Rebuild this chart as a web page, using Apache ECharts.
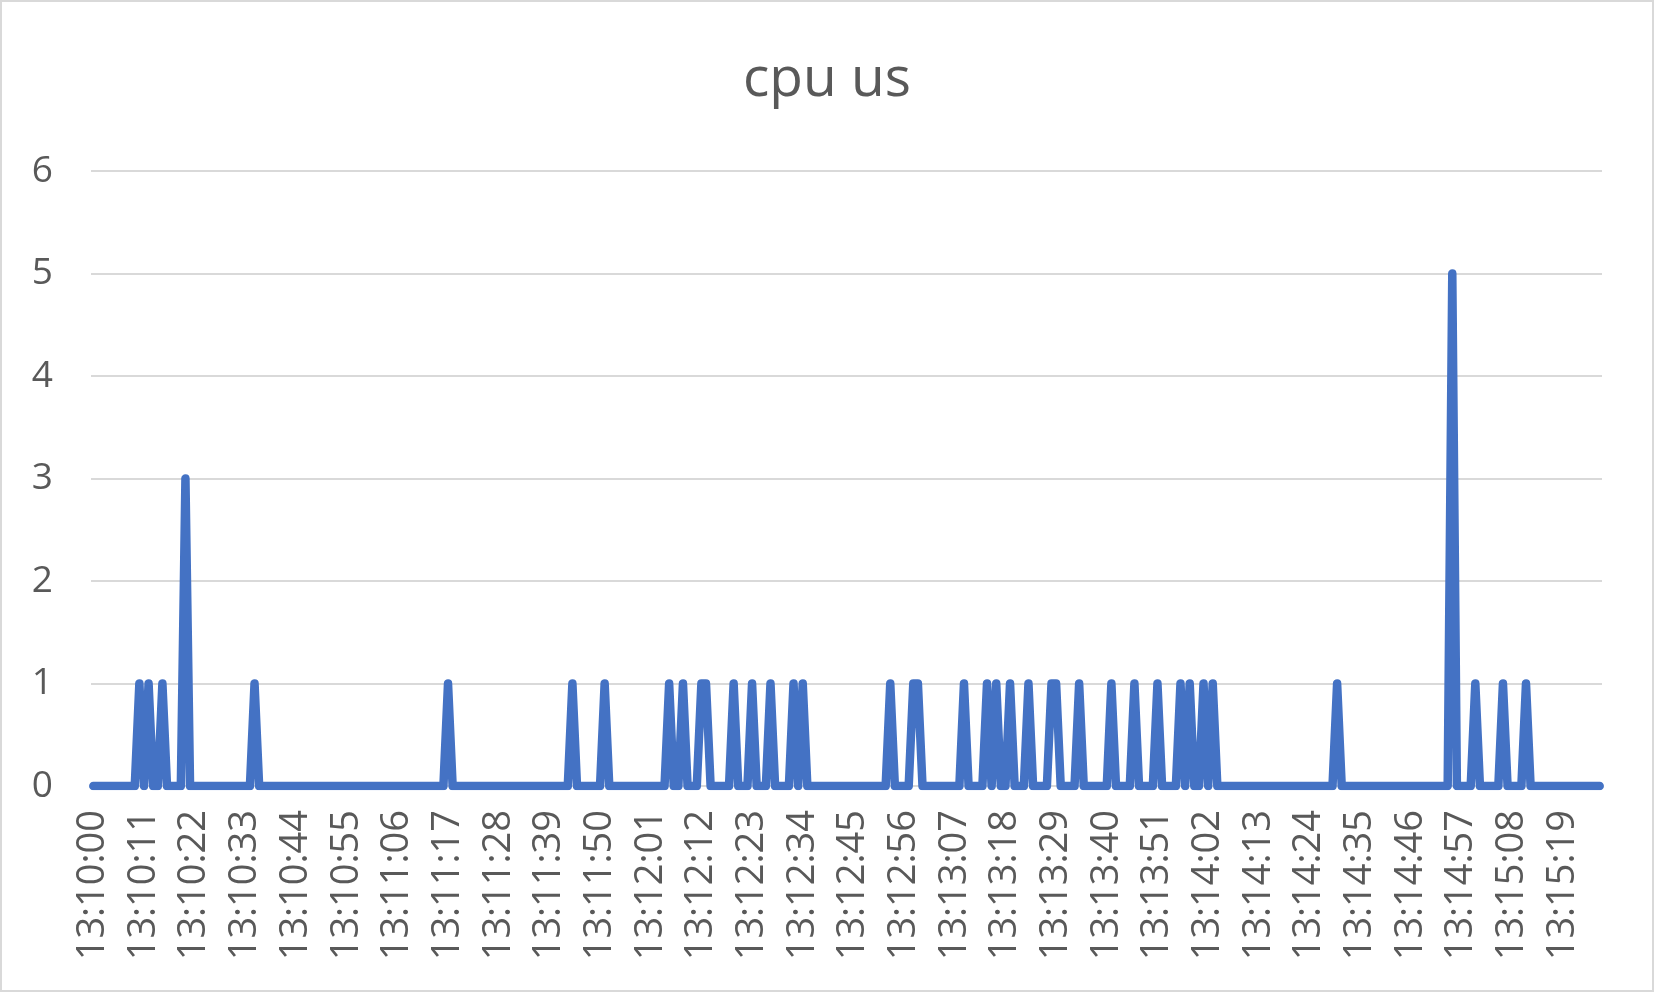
<!DOCTYPE html>
<html>
<head>
	<meta charset="UTF-8">
	<title>cpu us</title>
	<style>
		html, body { margin: 0; padding: 0; background: #fff; }
		#container { width: 1654px; height: 992px; }
	</style>
</head>
<body>
	<div id="container"></div>

	<script src="https://cdn.jsdelivr.net/npm/echarts@6/dist/echarts.min.js"></script>
	<script>
		// one sample per second, 13:10:00 .. 13:15:27
		var startTime = '13:10:00';
		var sampleCount = 328;

		// cpu us values, 20 per row
		var cpuUs = [
			0,0,0,0,0,0,0,0,0,0, 1,0,1,0,0,1,0,0,0,0,
			3,0,0,0,0,0,0,0,0,0, 0,0,0,0,0,1,0,0,0,0,
			0,0,0,0,0,0,0,0,0,0, 0,0,0,0,0,0,0,0,0,0,
			0,0,0,0,0,0,0,0,0,0, 0,0,0,0,0,0,0,1,0,0,
			0,0,0,0,0,0,0,0,0,0, 0,0,0,0,0,0,0,0,0,0,
			0,0,0,0,1,0,0,0,0,0, 0,1,0,0,0,0,0,0,0,0,
			0,0,0,0,0,1,0,0,1,0, 0,0,1,1,0,0,0,0,0,1,
			0,0,0,1,0,0,0,1,0,0, 0,0,1,0,1,0,0,0,0,0,
			0,0,0,0,0,0,0,0,0,0, 0,0,0,1,0,0,0,0,1,1,
			0,0,0,0,0,0,0,0,0,1, 0,0,0,0,1,0,1,0,0,1,
			0,0,0,1,0,0,0,0,1,1, 0,0,0,0,1,0,0,0,0,0,
			0,1,0,0,0,0,1,0,0,0, 0,1,0,0,0,0,1,0,1,0,
			0,1,0,1,0,0,0,0,0,0, 0,0,0,0,0,0,0,0,0,0,
			0,0,0,0,0,0,0,0,0,0, 1,0,0,0,0,0,0,0,0,0,
			0,0,0,0,0,0,0,0,0,0, 0,0,0,0,0,5,0,0,0,0,
			1,0,0,0,0,0,1,0,0,0, 0,1,0,0,0,0,0,0,0,0,
			0,0,0,0,0,0,0,0
		];

		var yTicks = [0, 1, 2, 3, 4, 5, 6];

		function pad(n) {
			return (n < 10 ? '0' : '') + n;
		}

		var times = [];
		var p = startTime.split(':');
		var base = (+p[0]) * 3600 + (+p[1]) * 60 + (+p[2]);
		for (var i = 0; i < sampleCount; i++) {
			var s = base + i;
			times.push(pad(Math.floor(s / 3600)) + ':' + pad(Math.floor(s / 60) % 60) + ':' + pad(s % 60));
		}

		var dom = document.getElementById('container');
		var myChart = echarts.init(dom, null, { renderer: 'canvas' });
		var font = '"Open Sans", "Noto Sans", sans-serif';

		var option = {
			backgroundColor: '#ffffff',
			animation: false,
			title: {
				text: 'cpu us',
				left: 'center',
				top: 48,
				textStyle: {
					fontFamily: font,
					fontSize: 55,
					fontWeight: 'normal',
					color: '#595959'
				}
			},
			graphic: [{
				type: 'rect',
				shape: { x: 1, y: 1, width: 1652, height: 990 },
				style: { fill: 'none', stroke: '#d9d9d9', lineWidth: 2 },
				silent: true
			}],
			grid: {
				left: 91,
				right: 52,
				top: 171,
				bottom: 206
			},
			xAxis: {
				type: 'category',
				data: times,
				boundaryGap: true,
				axisLine: { show: true, lineStyle: { color: '#d9d9d9', width: 2 } },
				axisTick: { show: false },
				axisLabel: {
					interval: 10,
					rotate: 90,
					margin: 24,
					fontFamily: font,
					fontSize: 38,
					color: '#595959'
				},
				splitLine: { show: false }
			},
			yAxis: {
				type: 'value',
				min: yTicks[0],
				max: yTicks[yTicks.length - 1],
				interval: 1,
				axisLine: { show: false },
				axisTick: { show: false },
				axisLabel: {
					margin: 38,
					fontFamily: font,
					fontSize: 37,
					color: '#595959'
				},
				splitLine: { lineStyle: { color: '#d9d9d9', width: 2 } }
			},
			series: [{
				name: 'cpu us',
				type: 'line',
				data: cpuUs,
				showSymbol: false,
				symbol: 'none',
				lineStyle: {
					color: '#4472c4',
					width: 8.5,
					cap: 'round',
					join: 'round'
				}
			}]
		};

		myChart.setOption(option);
	</script>
</body>
</html>
